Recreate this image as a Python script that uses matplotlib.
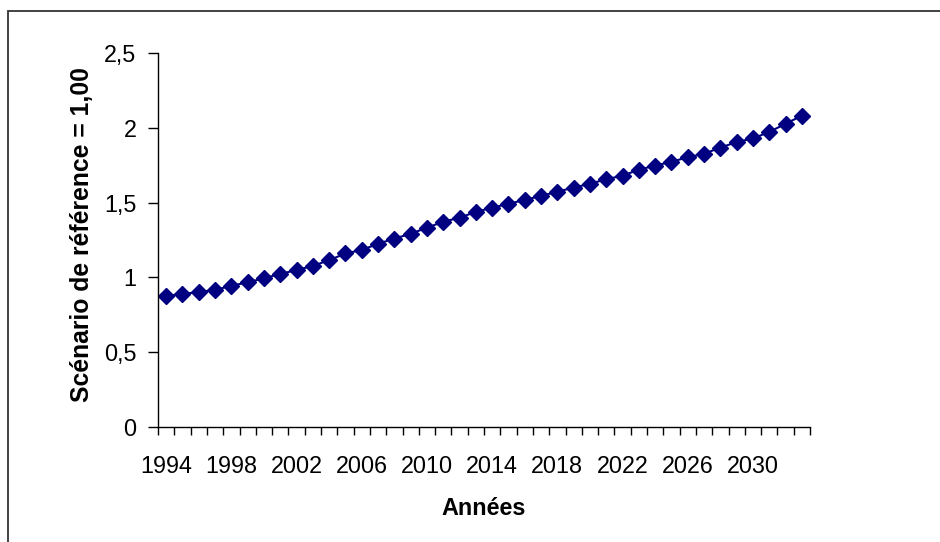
import matplotlib
matplotlib.use("Agg")
import matplotlib.pyplot as plt
from matplotlib.patches import Rectangle
import numpy as np

plt.rcParams['font.family'] = ['Liberation Sans', 'DejaVu Sans']

years = list(range(1994, 2034))
values = [0.876, 0.889, 0.902, 0.916, 0.944, 0.967, 0.994, 1.023, 1.049, 1.077,
          1.115, 1.160, 1.183, 1.225, 1.259, 1.292, 1.332, 1.372, 1.399, 1.438,
          1.466, 1.491, 1.519, 1.544, 1.573, 1.600, 1.626, 1.656, 1.680, 1.720,
          1.747, 1.773, 1.803, 1.827, 1.867, 1.905, 1.929, 1.972, 2.027, 2.081]
y_ticks = [0, 0.5, 1, 1.5, 2, 2.5]
y_tick_labels = ["0", "0,5", "1", "1,5", "2", "2,5"]
x_label = "Années"
y_label = "Scénario de référence = 1,00"

W, H = 940, 542
fig = plt.figure(figsize=(W / 100, H / 100), dpi=100)
fig.patch.set_facecolor("white")

# outer chart frame (runs off the right and bottom edges)
fig.patches.append(Rectangle((8 / W, -0.05), 1.2, 1 - 11 / H + 0.05,
                             transform=fig.transFigure, fill=False,
                             edgecolor="#333333", linewidth=1.3, zorder=0))

ax = fig.add_axes([158 / W, 1 - 427 / H, (810 - 158) / W, (427 - 53) / H])
x = np.arange(len(years))
ax.plot(x, values, color="#000080", linewidth=1.5, marker="D",
        markersize=7.8, markerfacecolor="#000080", markeredgecolor="#000080",
        clip_on=False)

ax.set_xlim(-0.5, len(years) - 0.5)
ax.set_ylim(0, 2.5)

ax.set_yticks(y_ticks)
ax.set_yticklabels(y_tick_labels)
label_idx = list(range(0, len(years), 4))
ax.set_xticks(label_idx)
ax.set_xticklabels([str(years[i]) for i in label_idx])
ax.set_xticks(np.arange(-0.5, len(years), 1.0), minor=True)

ax.tick_params(axis="x", which="major", length=0, pad=20.5, labelsize=16.8)
ax.tick_params(axis="x", which="minor", length=6, width=1, direction="out")
ax.tick_params(axis="y", which="major", length=7.5, width=1, direction="out",
               pad=8, labelsize=16.8)

for s in ["top", "right"]:
    ax.spines[s].set_visible(False)
for s in ["left", "bottom"]:
    ax.spines[s].set_linewidth(1)
    ax.spines[s].set_color("black")

ax.set_xlabel(x_label, fontsize=16.8, fontweight="bold", labelpad=13)
ax.set_ylabel(y_label, fontsize=17.8, fontweight="bold", labelpad=7)
ax.yaxis.label.set_y((427 - 235) / (427 - 53))

fig.savefig("out.png", dpi=100, facecolor="white")
